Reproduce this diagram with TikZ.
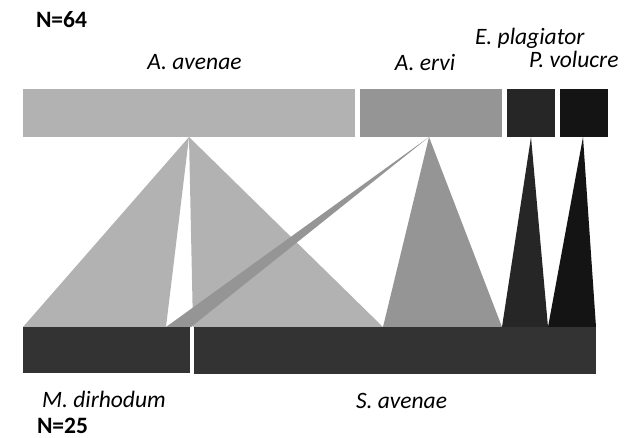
\documentclass[tikz,border=0pt]{standalone}
\usepackage{fontspec}
\setmainfont{Carlito}
\definecolor{cAav}{HTML}{B2B2B2}
\definecolor{cAer}{HTML}{959595}
\definecolor{cEpl}{HTML}{262626}
\definecolor{cPvo}{HTML}{141414}
\definecolor{cHost}{HTML}{333333}
\tikzset{
  box/.style={rectangle, inner sep=0pt, outer sep=0pt, anchor=north west},
  lab/.style={inner sep=0pt, outer sep=0pt, font=\fontsize{23.5}{28}\selectfont\itshape},
  nlab/.style={inner sep=0pt, outer sep=0pt, anchor=base west, font=\fontsize{23.5}{28}\selectfont\bfseries},
}
\begin{document}
\begin{tikzpicture}[x=1pt, y=-1pt]
\useasboundingbox (0,0) rectangle (628,438);
% apex and base points of the flows
\coordinate (tA) at (189,137);
\coordinate (tE) at (429,137);
\coordinate (tP) at (531,137);
\coordinate (tV) at (583,137);
\coordinate (b1) at (23,327);
\coordinate (b2) at (166,327);
\coordinate (b3) at (191,327);
\coordinate (b4) at (193,327);
\coordinate (b5) at (383,327);
\coordinate (b6) at (502,327);
\coordinate (b7) at (548,327);
\coordinate (b8) at (596,327);
% flows
\fill[cAav] (tA) -- (b1) -- (b2) -- cycle;
\fill[cAav] (tA) -- (b4) -- (b5) -- cycle;
\fill[cAer] (tE) -- (b5) -- (b6) -- cycle;
\fill[cAer] (tE) -- (b2) -- (b3) -- cycle;
\fill[cEpl] (tP) -- (b6) -- (b7) -- cycle;
\fill[cPvo] (tV) -- (b7) -- (b8) -- cycle;
% parasitoid boxes
\node[box, fill=cAav, minimum width=332pt, minimum height=48pt] (aav) at (23,89) {};
\node[box, fill=cAer, minimum width=142pt, minimum height=48pt] (aer) at (360,89) {};
\node[box, fill=cEpl, minimum width=48pt, minimum height=48pt] (epl) at (507,89) {};
\node[box, fill=cPvo, minimum width=48pt, minimum height=48pt] (pvo) at (560,89) {};
% host boxes
\node[box, fill=cHost, minimum width=167pt, minimum height=46pt] (mdi) at (23,327) {};
\node[box, fill=cHost, minimum width=402pt, minimum height=47pt] (sav) at (194,327) {};
% labels
\node[nlab] (n64) at (36,28) {N=64};
\node[lab, anchor=base] (laav) at (194.5,70) {A. avenae};
\node[lab, anchor=base] (laer) at (425,71) {A. ervi};
\node[lab, anchor=base west] (lepl) at (475,45) {E. plagiator};
\node[lab, anchor=base west] (lpvo) at (529,68) {P. volucre};
\node[lab, anchor=base west] (lmdi) at (42,407) {M. dirhodum};
\node[lab, anchor=base west] (lsav) at (356,408) {S. avenae};
\node[nlab] (n25) at (37,433) {N=25};
\end{tikzpicture}
\end{document}
